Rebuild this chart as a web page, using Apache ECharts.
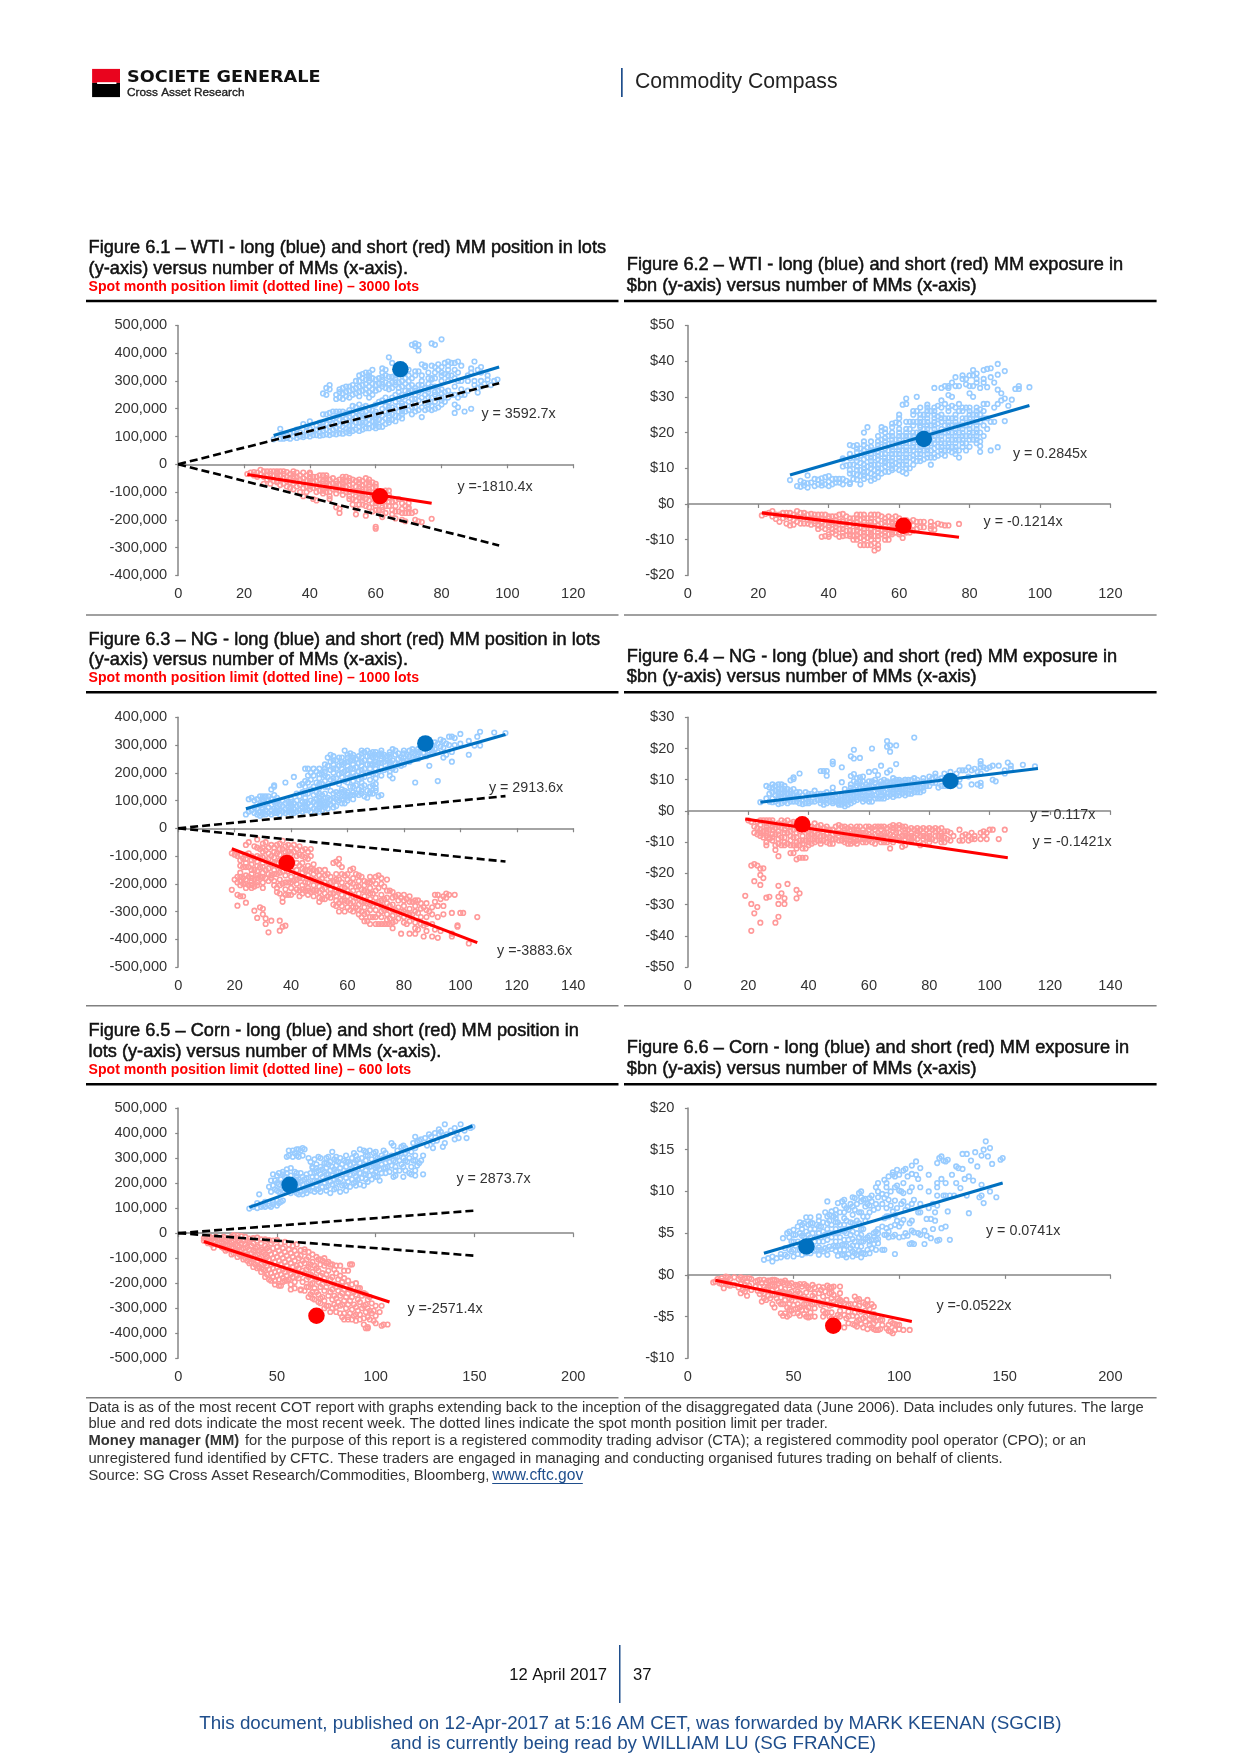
<!DOCTYPE html>
<html><head><meta charset="utf-8"><title>Commodity Compass</title>
<style>html,body{margin:0;padding:0;background:#fff}#c{width:1240px;height:1754px}</style>
<script src="https://cdn.jsdelivr.net/npm/echarts@6/dist/echarts.min.js"></script></head>
<body><div id="c"></div>
<script>
// Rows are [x, y, y, ...]. Lots rows are in thousands of lots, exposure rows in $bn.
const wtiLotsLong=[[29,90],[31,128,92],[32,92,100,110],[33,95,105],[34,92,112],[35,100,118],[36,95,108,125],[37,100,115],[38,98,105,145],[39,103,120,135],[40,100,112,128,155],[41,105,118],[42,105,125,140],[43,103,115,130,150],[44,105,120,135,150,180,255],[45,108,125,145,180,250,275],[46,105,118,135,160,185,285,270],[47,110,125,145,165,190],[48,108,130,150,170,190,250,235],[49,112,125,140,160,180,190,270,260,240],[50,110,135,155,175,190,275,255,235],[51,115,128,145,165,185,280,260,245],[52,112,125,140,170,195,280,265,240],[53,120,140,160,180,210,270,285,250],[54,125,150,170,190,205,300,275,255],[55,120,135,150,175,195,215,320,300,280,260,245],[56,125,140,165,185,205,325,310,285,265],[57,130,150,170,190,210,330,305,290,270,255],[58,130,145,160,180,200,300,320,280,260,240],[59,135,155,175,195,340,310,290,270,250],[60,130,150,170,190,215,305,285,265],[61,135,160,180,225,310,290,270],[62,135,155,175,200,230,315,280,345],[63,145,165,190,210,240,320,295,275,340],[64,150,175,195,225,315,290,270,385],[65,160,180,205,240,315,295,275,365],[66,155,175,200,225,250,310,285],[67,170,190,210,235,260,295,275],[68,165,180,200,220,250,300,280],[69,190,215,245,265,290,310],[70,195,225,255,280,300],[71,180,205,235,265,285,310,430],[72,190,220,250,275,335,320,435,425],[73,195,230,260,285,335,410,430],[74,170,205,240,270,285,360],[75,195,220,250,275,355,350],[76,200,225,260,330],[77,195,210,240,280,305,310,355,435],[78,200,225,250,310,430],[79,205,240,265,340,360],[80,215,230,255,350,330,450],[81,225,260,325,365],[82,240,265,340,370],[83,250,320,365],[84,185,215,340,365],[85,205,240,300,330,370],[86,355],[87,190,250],[88,265],[89,200,330,345],[90,285,370,300],[91,258,275,340],[92,280,350],[93,290],[94,305],[95,285],[96,300],[97,305],
[52,120,155,185],[56,150,175],[60,140,160,180],[64,160,185,205],[68,190,210,240],[72,205,235,265],[76,215,240,270,290,310],[80,240,270,300,320],[84,250,280,310],[62,290,330,305],[58,310,330],[66,295,320],[70,320,340,260],[74,300,320],[78,330,350,280,260],[82,300,320,355],[86,250,270,300],[88,300,320],[92,300,330],[94,320]];
const wtiLotsShort=[[21,-35],[22,-30],[23,-28,-40],[24,-30,-45],[25,-20,-35],[26,-25,-45,-70],[27,-25,-40,-55],[28,-25,-35,-50,-70],[29,-25,-40,-60],[30,-25,-35,-50,-65],[31,-25,-40,-55,-75],[32,-25,-35,-50,-70],[33,-28,-45,-60,-80],[34,-35,-50,-65,-85],[35,-35,-50,-70,-90],[36,-30,-45,-60,-80],[37,-40,-55,-75,-100],[38,-30,-50,-65,-85,-115],[39,-40,-60,-80,-100],[40,-35,-50,-70,-90],[41,-45,-65,-85,-125],[42,-45,-60,-80,-100,-130],[43,-40,-55,-75,-95],[44,-40,-60,-85,-105],[45,-50,-70,-85],[46,-55,-75,-100],[47,-50,-70,-90],[48,-60,-80,-105,-155],[49,-55,-75,-95,-160,-175],[50,-45,-65,-85,-110],[51,-45,-60,-80,-100],[52,-50,-75,-90,-115,-125],[53,-55,-70,-95,-125,-145],[54,-60,-80,-100,-130,-160,-180],[55,-55,-70,-95,-120,-145],[56,-60,-75,-90,-110,-130],[57,-50,-70,-90,-125,-150,-185],[58,-55,-75,-100,-130,-155],[59,-65,-85,-110,-140,-170],[60,-70,-95,-130,-150,-225,-232],[61,-105,-125,-165],[62,-130,-155,-180],[63,-95,-125,-150,-175],[64,-95,-110,-135],[65,-135,-165,-180],[66,-130,-150,-195],[67,-125,-170],[68,-140,-200],[69,-150,-175,-205],[70,-140,-155,-175],[71,-175],[72,-170,-200],[73,-205],[74,-208],[77,-196],
[30,-30,-45,-60],[35,-25,-45,-60],[40,-30,-45,-60,-80],[45,-40,-60,-80,-100],[50,-55,-75,-95],[55,-65,-85,-105],[60,-80,-110,-140,-165],[64,-120,-150],[68,-160,-175],[66,-170],[70,-160],[62,-165,-190],[54,-115],[44,-70,-95],[48,-70,-90],[52,-60,-100],[58,-65,-90,-110],[56,-100,-120,-145],[46,-115,-125]];
const wtiUsdLong=[[29,6.7],[31,5],[32,4.8,6.5],[33,5.2,6],[34,4.6,5.8,8],[35,6],[36,5,7],[37,5.5,6.8],[38,5.2,6,7.2],[39,5.5,7.5],[40,5,6.2,7.8],[41,5.5,7],[42,6,7],[43,6,7],[44,5.5,7,12.5],[45,6.5,10.8],[46,5.6,6,11,12.8],[47,7,8.5,11,13,16.2],[48,6.8,8.2,9.5,12,14.5,16.5],[49,5.5,7.8,9.5,11.5,13.5,15.5],[50,7,9,11,12.5,15,20],[51,7.5,9,10.5,13,15.8,21.5],[52,6.5,8.5,10,12,14,16,17.5],[53,7,8,9.5,11,13,15],[54,7.5,9,11,12.5,14.5,16.5],[55,8.5,10,12,14,16,18,21.5,20.5],[56,9,10.5,12,14,15.5,17.5,20],[57,9,11,13,15,16.8,19],[58,9.5,11,13,15,17,19,22.5],[59,10,11.5,14,16,18,22.8],[60,9.5,12,14,16,18,20,24,25],[61,9,11,13,15,17,19,27.8],[62,8.5,10,12,14,16,18,20,29.5,28],[63,10,13,15,17,19,21,23],[64,11,12.5,15,17,19,22],[65,12,14,16,18,20,23,26,30],[66,12,14,16,18,20,21.5,23,27],[67,12.5,15,17,19,21,23,25],[68,13,15,17,19,21,24,26],[69,11,13,15,17,19,22,26],[70,13,15.5,18,20,22,25,27],[71,13.5,16,18,20,22.5,24.5,27.5],[72,14,16,18,21,24,27,29,32.5],[73,13.5,15,17,20,22,24],[74,15,17,19,21,23,33,32.5,30.5],[75,14.5,16,18,20,22,24,27.5],[76,14,16,18,21,23,27],[77,13,15,18,20,22,26,28,33],[78,16,18,20,23,36,35],[79,15,17,19,22,24,27],[80,16,19,21,24,26,31,33,36],[81,18,20,23,25,30,36],[82,17,19,22,24,27,34,36.5],[83,14.6,16.2,17.5,20,23,25,26.5,32.5],[84,19,22,24,28,35,37.5],[85,21,24,32.7,37.8],[86,15,23,35.5,38],[87,23,34,27],[88,28,32,36.2,39.2,15.9],[89,31,29],[90,23.2,29.5,37.2],[91,27.5],[92,29.2],[93,32.2],[94,33,32.2],[97,32.7],
[44,10.5,12.8],[46,8.5,9.5,14,16.5],[48,10.5,13,15.5],[50,8,10,14,16.5,17.5],[52,11,13,15],[54,10,13.5,15.5,17.5,19],[56,11.5,13,16.5,18.5,21],[58,10,12,14,16,18,20,21.5],[60,11,13,15,17,19,21,22.5],[62,11,13,15,17,19,21,23],[64,13.5,16,18,20,23,25,26],[66,13,15,17,19,22,24,25],[68,14,16,18,20,22,23,25,27],[70,14,17,19,21,23,24,26],[72,15,17,19,20,23,25],[74,16,18,20,22,24,26,27],[76,15,17,19,20,22,24,25,33,35.5],[78,17,19,21,22,24,26,27],[80,18,20,22,23,25,27],[82,18,20,21,23,25,26,35],[70,32.5],[73,33,28],[75,30,34],[79,33.5,35],[84,26,34],[85,28],[81,33,37.5],[68,27.8]];
const wtiUsdShort=[[21,-3.2],[22,-2.8],[23,-2.5],[24,-2,-3.5],[25,-3,-4.2],[26,-3,-5],[27,-2.5,-4],[28,-2.5,-3.5,-5.5],[29,-2.5,-4,-6],[30,-3,-4.5,-5.8],[31,-2,-3.5,-5],[32,-2.5,-4,-5.5],[33,-2.5,-3.5,-5.5],[34,-3,-4.5,-5.5],[35,-2.8,-4.5,-5.8],[36,-3,-4,-5.5],[37,-3,-4.5,-6,-7],[38,-3,-5,-6.5,-9.2],[39,-3,-4.5,-7,-9],[40,-3.5,-5,-6.5,-8.5,-9.2],[41,-3.5,-5,-7,-8],[42,-3.5,-5.5,-7.5,-8.5],[43,-3,-5,-7,-9.2],[44,-2.8,-4.5,-6,-8,-9],[45,-3.5,-5.5,-7.5,-8.8],[46,-4,-6,-7.5,-9],[47,-4,-5.5,-7.5,-9,-10],[48,-3,-5,-6.5,-8.5,-10],[49,-3,-4.5,-6.5,-8,-9.5,-11.5],[50,-3,-5,-7,-9,-11.5],[51,-4,-6,-8,-9.5,-11.5],[52,-3,-5,-7,-8.5,-10,-11.5],[53,-3,-5,-6.5,-9,-11,-13],[54,-3,-4.5,-6,-8,-10,-11.5,-12.5],[55,-3.5,-5.5,-7.5,-8.5],[56,-4,-6,-8,-10],[57,-3.5,-5,-7,-8.5,-10],[58,-4,-5.5,-7.5,-8.5],[59,-3.5,-5.5,-7,-8],[60,-4,-6,-8.5],[61,-5,-7.5,-9.5],[62,-4.5,-6.5,-8],[63,-5,-7,-8],[64,-4.5,-6,-7.5],[65,-5,-7],[66,-5,-6.5],[67,-5,-6.5],[69,-5,-6.2,-7],[70,-6,-7.2],[71,-5.5],[72,-5.8],[73,-6],[74,-6],[77,-5.6],
[42,-4.5,-6.5],[44,-5,-7],[46,-5,-8.5],[48,-4,-6,-7.5,-9],[50,-4,-6,-8,-10],[52,-4,-6,-8,-9],[54,-7,-9],[56,-5,-7,-9],[58,-5,-7,-8],[60,-5,-7,-8],[40,-4,-6],[36,-4.8],[38,-4,-5.5],[62,-5.5,-7.5]];
const ngLotsLong=[[24,50],[25,60,105],[26,65,110],[27,55,75,100],[28,50,70,105],[29,45,60,85,115],[30,50,70,95,115],[31,50,65,90,115],[32,55,75,100,115],[33,50,65,85,105,140],[34,55,70,95,120,150,155],[35,55,75,100],[36,50,65,85],[37,60,80,100],[38,55,70,90,165],[39,60,75,95],[40,65,85,105],[41,55,70,90,185],[42,60,80,100,125],[43,65,85,115,155],[44,60,75,95,130,160],[45,65,85,110,150,170,215],[46,65,90,125,165,190,215],[47,60,80,100,140,175,200],[48,70,95,120,150,190,215],[49,65,85,105,130,165,205],[50,70,90,110,145,180,215],[51,65,80,100,120,160,195],[52,75,95,125,170,205,230],[53,70,90,110,150,185,225,255],[54,85,105,135,175,210,240,265],[55,75,125,165,200,230,260],[56,80,105,130,180,215,245],[57,100,125,160,195,225,255],[58,115,140,185,215,240],[59,90,115,135,170,205,235,280],[60,110,130,165,195,225,265],[61,120,150,185,215,245,270],[62,105,130,170,200,230,255],[63,125,155,190,220,250],[64,120,140,175,205,235,260],[65,135,165,195,225,255,280],[66,115,155,185,215,245,275],[67,110,135,200,230,260,280],[68,150,175,215,245,270],[69,125,155,195,230,255,275],[70,145,180,215,240,275],[71,115,205,235,265],[72,120,190,220,250,270],[73,210,240,265],[74,215,245,260],[75,205,230,255,275],[76,180,215,245,285],[77,210,235,265,280],[78,230,250,270],[79,225,255],[80,240,270],[81,245,265],[82,240,260,280],[83,255,275,285],[84,165,250,270],[85,265,285],[86,260,285],[87,270,300],[88,260,290],[89,225,280,300],[90,270,290],[91,285,310],[92,170,275,305],[93,295,320],[94,255,290,315],[95,265,305],[96,300,330],[97,240,275,330],[98,300,325],[100,340,305],[103,265,315],[105,298],[106,330],[107,298,348],[112,345],[116,343],
[30,60,85,105],[35,65,90,110],[40,55,75,95],[45,75,95,125],[50,60,80,100,125,160,195],[55,95,110,180,215,245],[60,100,120,180,210,240,255],[65,125,150,180,210,240,270],[70,135,160,195,230,255,265],[75,190,220,240,265],[80,230,255,280],[85,250,275],[90,280,300],[72,235,260,280],[68,125,130,200,230,260],[62,120,150,185,215,245,265],[58,90,105,130,200,230,255],[52,85,110,150,190,215]];
const ngLotsShort=[[19,-90,-222],[20,-95,-185],[21,-100,-175,-195,-240,-279],[22,-95,-135,-190,-205,-245],[23,-110,-140,-180,-200,-245],[24,-60,-95,-125,-185,-215,-268],[25,-50,-90,-140,-175,-205],[26,-100,-130,-165,-190,-215],[27,-65,-110,-150,-185,-210,-297],[28,-40,-70,-120,-155,-180,-205,-323],[29,-75,-105,-140,-175,-285],[30,-55,-85,-125,-160,-195,-215,-290,-310],[31,-50,-80,-115,-150,-180,-345,-325],[32,-70,-110,-145,-375],[33,-60,-100,-130,-170,-180,-333],[34,-70,-105,-150,-190,-205],[35,-60,-90,-125,-165,-215,-230],[36,-55,-95,-140,-185,-235,-333,-369],[37,-45,-75,-110,-155,-200,-250,-265,-355],[38,-65,-100,-140,-170,-220,-351],[39,-60,-85,-155,-195,-240],[40,-70,-110,-175,-215],[41,-60,-85,-190,-230],[42,-75,-100,-170,-200],[43,-65,-95,-135,-180,-225,-245],[44,-80,-125,-160,-205,-235],[45,-75,-105,-150,-195,-225],[46,-85,-135,-170,-215,-240],[47,-75,-100,-145,-185,-230],[48,-130,-165,-205,-245],[49,-155,-190,-225],[50,-170,-210,-250,-265],[51,-180,-220,-255],[52,-150,-195,-235,-255],[53,-165,-205,-245],[54,-175,-220,-250],[55,-125,-190,-235,-275],[56,-120,-165,-205,-260,-280],[57,-110,-130,-185,-225,-270,-300],[58,-140,-195,-240,-280],[59,-170,-215,-260,-300],[60,-165,-205,-245,-285],[61,-150,-195,-235,-270,-295],[62,-145,-180,-225,-265,-300],[63,-165,-210,-250,-285],[64,-190,-235,-275,-310],[65,-175,-220,-265,-300,-320],[66,-205,-245,-285,-335],[67,-195,-230,-270,-305,-335],[68,-175,-215,-255,-295],[69,-190,-235,-280,-320],[70,-200,-250,-295,-345],[71,-170,-215,-265,-310,-345],[72,-180,-240,-280,-320],[73,-210,-255,-295,-345],[74,-185,-225,-270,-310,-345],[75,-225,-280,-325,-345],[76,-230,-275,-315,-360],[77,-245,-295,-335],[78,-240,-285,-325],[79,-250,-300,-380],[80,-240,-280,-320],[81,-255,-305,-345],[82,-245,-290,-335,-380],[83,-265,-310],[84,-280,-340],[85,-260,-305,-365],[86,-270,-320],[87,-285,-350,-390],[88,-295,-345],[89,-300],[90,-285,-390],[91,-240,-265,-365],[92,-240,-280,-320,-395],[93,-255,-370],[94,-245,-280,-310],[95,-235,-250],[96,-240],[97,-305,-380,-390],[98,-240],[99,-350,-355],[100,-305],[101,-305],[103,-415],[106,-320],
[22,-115,-160,-175],[24,-110,-140,-170,-200],[26,-115,-150,-180,-205],[28,-100,-135,-170,-195],[30,-70,-105,-140,-175],[32,-90,-125,-165,-190],[34,-85,-125,-165],[36,-75,-115,-160,-205],[38,-85,-120,-195,-240],[40,-90,-130,-150,-195,-240],[42,-125,-150,-185,-220],[44,-100,-145,-180,-220],[46,-110,-150,-195,-225],[48,-150,-185,-225],[50,-150,-190,-230],[52,-170,-215],[54,-195,-235],[56,-185,-225,-245],[58,-165,-215,-260],[60,-185,-225,-265],[62,-200,-245,-285],[64,-170,-210,-255,-295],[66,-190,-225,-265,-310],[68,-195,-235,-275,-320,-345],[70,-175,-225,-270,-320],[72,-200,-260,-300,-345],[74,-250,-290,-330],[76,-250,-295,-340],[78,-260,-305],[80,-260,-300,-340],[82,-265,-310],[84,-260,-300,-360,-380],[86,-290,-345],[88,-270,-320,-370],[90,-310,-345]];
const ngUsdLong=[[24,2.8],[26,8,4],[27,3,5.5,7.5],[28,2.8,4,6,7.5,8.5],[29,3,5,6.5,8],[30,2.2,4,6,8.5],[31,2.5,4.5,5.5,7,8.5],[32,3,4.5,6,8],[33,2.5,4,5.5,7],[34,3,4.5,6.5,9.8],[35,3,5,7,10.2,10.8],[36,3,5],[37,4,6,2.5,12],[38,2.2,5],[39,2.5,4,6],[40,3,5.5],[41,3,5.5],[42,3,5,6.5],[43,3.5,5.5],[44,2.5,4.5,5.5,12.8],[45,2,4,5.5,12.8],[46,2.5,4,5,11.3,12.8],[47,3,4.5],[48,2.5,4,6,7.5,15,15.8],[49,3,4.5],[50,2,3.5],[51,2,3.5,5,9.2,14],[52,1.5,3.5,5.5],[53,2,4,6],[54,2.5,4.5,6.5,8.5,11.2,17.5],[55,3,5,7,9.5,11.8,16.8,19.6],[56,3.5,5.5,8,10.5],[57,4,6,7.5,9.5,10.8,17],[58,3,5,7],[59,3.5,5,7,8.5],[60,3,5,7,12.5],[61,3,5,8,9.5,20],[62,4,6.5,9,12.8],[63,4,6,8,11.5],[64,5,7.5,9.5,14.5],[65,4,6,8.5,10],[66,4.5,7,9.5,12.3,22.4,20.6],[67,5,7,9,13,21,19],[68,4.5,6.5,8.5,10.5],[69,5,7,10,15,21],[70,5,7,9,10],[71,5.5,7.5,9.5],[72,5,7,9,10],[73,5.5,8,10],[74,5.5,7.5],[75,6,8,9,10.5,23.5],[76,6,8],[77,6,7.5],[78,6.5,8.5,10.5],[79,8],[80,8,9.5,11],[81,9,10.5],[82,9,11,12],[83,7.5,10],[84,8,10.5],[85,8,10,12],[86,8,9,11],[87,8,12.5],[88,9,11],[89,12],[90,13,8,10],[91,13],[92,13],[93,11,14],[94,13,8.5],[95,13.5],[96,12.5,8.5],[97,9,8,12,14,15,16],[98,14],[99,13.5],[100,14],[101,10,14.5],[102,9.5],[103,14.5],[105,12,13],[106,15.5],[107,13.5,14.5],[111,14.8],[115,14.3],
[30,5,7],[32,5,7,3.5],[34,4,5.5],[36,4,6],[38,3.5],[40,4.5,2.5],[44,3.5],[46,3.5,6],[48,3,5],[50,3,5,2.5],[52,2.5,4.5,7],[54,3.5,5.5,7.5],[56,4.5,6.5,9],[58,4,6,8,9.5,11],[60,4,6,8,9.5],[62,5,7.5,10],[64,4,6,8.5],[66,5.5,8,9],[68,5.5,7.5,9.5],[70,6,8,9.5],[72,6,8,10],[74,6.5,8.5,10],[76,7,9,10],[78,7.5,9.5]];
const ngUsdShort=[[19,-27.2],[20,-3],[21,-3.5,-29.8,-38.4,-17.5],[22,-5,-7,-22.5,-32.8,-17],[23,-3.5,-5.5,-7.5,-30.8,-17.5],[24,-3,-6,-8,-23.7,-35.8,-18.5,-20.5],[25,-3,-6.5,-8.5,-18.4,-21.5],[26,-3,-5,-7,-10,-11,-27.8],[27,-3,-6,-8.5,-9,-27.5],[28,-3,-5,-7.5,-9.5],[29,-5.5,-7.5,-12.5,-11,-35.8],[30,-4,-6.5,-9,-14.5,-24,-27.5,-29.8,-33.9],[31,-3,-5.5,-8.5,-11,-26.4],[32,-3.5,-7,-10,-11,-28,-29.8],[33,-3,-5,-7,-10.5,-23.4],[34,-4,-6.5,-9.5,-13.5],[35,-3.5,-6,-8.5,-11,-13.5],[36,-4.5,-7,-10,-12,-15.5,-25.3,-28],[37,-4,-6.5,-9.5,-11,-15,-26.4],[38,-4,-9.5,-12,-15],[39,-6,-9.5,-12,-15],[40,-5,-7,-9,-11],[41,-5,-7.5,-10.5],[42,-4,-7,-9,-10],[43,-5,-7.5,-9.5],[44,-4.5,-8,-10.5],[45,-5.5,-8,-9.5],[46,-5,-7.5,-10],[47,-6,-8.5,-10.5],[48,-6,-9,-10.5],[49,-5,-7,-9],[50,-4.5,-7,-9.5],[51,-5,-7.5,-9.5],[52,-5,-7,-9],[53,-5.5,-8,-10.5],[54,-5,-7.5,-9.5,-10.5],[55,-6,-9,-10],[56,-5,-7,-9.5],[57,-5,-7.5,-9],[58,-6,-8,-10],[59,-5,-7,-10],[60,-5,-7.5,-9.5],[61,-5.5,-8,-10],[62,-6,-9,-10.5],[63,-5,-7,-9],[64,-6,-8.5,-10],[65,-5,-7,-10],[66,-5.5,-8.5,-10],[67,-5,-7.5,-9.5,-12],[68,-4.5,-6.5,-9],[69,-5,-7,-9],[70,-4.5,-7,-9.5],[71,-5,-8,-11.5],[72,-5,-7,-9,-11],[73,-6,-8.5],[74,-5.5,-8,-10],[75,-6,-8.5,-10],[76,-6.5,-9],[77,-6,-8,-11],[78,-7,-9,-10.5],[79,-6,-8.5],[80,-5.5,-8,-10],[81,-6,-9],[82,-6.5,-9.5],[83,-6,-8],[84,-7,-9,-10],[85,-6.5,-8.5,-10],[86,-6.5,-9],[87,-7,-9.5],[88,-8],[90,-6,-9.5],[91,-8,-9.5],[92,-7.5],[93,-8,-9.5],[94,-7,-9],[95,-8,-9],[97,-7,-9],[98,-6.5,-8],[99,-7,-9],[100,-6],[101,-6],[103,-9],[105,-6],
[24,-4.5,-7],[26,-4,-6,-8],[28,-4,-6,-8.5],[30,-5,-7.5,-10.5],[32,-4.5,-6,-8.5],[34,-5,-8,-11],[36,-3.5,-5.5,-8.5,-11],[38,-5.5,-8,-10.5],[40,-6,-8,-10],[42,-5.5,-8],[44,-6,-9.5],[46,-6,-8.5],[48,-7.5],[50,-6,-8],[52,-6,-8,-10],[54,-6,-8.5],[56,-6,-8,-10.5],[58,-7,-9],[60,-6,-8.5],[62,-5,-7.5],[64,-5,-7.5,-9],[66,-7,-9],[68,-5.5,-8,-10],[70,-5.5,-8.5],[72,-6,-8],[74,-7,-9],[76,-5.5,-7.5],[78,-5.5,-8],[80,-7,-9],[82,-5.5,-8],[84,-5.5,-8]];
const cornLotsLong=[[36,98],[38,105],[40,100,120],[41,155],[42,105],[43,110],[44,105,125],[46,110,185],[47,105,165,210],[48,115,125,190,235],[49,175,210],[50,110,130,170,200,230],[51,120,165,195,240],[52,125,175,215],[53,130,170,200,235,245],[54,180,225],[55,175,240,255,305],[56,170,200,330,310],[57,160,230,260],[58,330,305],[59,170,215,245,320],[60,175,195,225,310,335],[61,155,185,215,335,305],[62,165,205,240,330],[63,155,195,225,340,310],[64,170,215,335],[65,160,185,235],[66,175,205,300],[67,170,195,240,285],[68,185,225,260,265],[69,165,210,240,295],[70,190,225,275],[71,175,205,250,305],[72,165,200,235,265,300],[73,185,225,255],[74,200,245,280],[75,170,215,260],[76,190,235,275,305],[77,160,205,250,285],[78,195,230,265,325],[79,175,215,255,295],[80,180,225,270,305],[81,205,245,285],[82,165,215,260,300],[83,190,235,275],[84,195,250,290],[85,170,220,265,310],[86,205,245,285],[87,185,235,275],[88,215,255,300],[89,200,240,280,320],[90,190,225,265,310],[91,215,255,295],[92,195,240,280,335],[93,220,260,300],[94,190,235,275,330],[95,215,250,290,325],[96,205,270,310],[97,230,265,330],[98,215,250,295],[99,235,280,320],[100,245,270,305,325],[101,225,265,300],[102,210,255,290],[103,240,275,310],[104,260,300,330],[105,240,280,320],[106,265,300],[107,245,285],[108,270,310,360],[109,225,290,350],[110,230,265],[111,305,330],[112,250,290],[113,275,320,345],[114,225,265,300,350],[115,250,340],[116,285,330],[117,240,300],[118,235,265,325],[119,290,360],[120,230,310,385],[121,270,365],[122,280,370],[123,290,375],[124,235,310],[125,380],[126,350],[127,395],[128,385],[129,365,340],[130,400],[131,370],[132,415,395],[133,405],[134,345,390],[135,360,435],[136,395],[138,410],[140,375,420],[141,400],[142,380],[143,435],[145,410],[146,380],[148,420],[149,425],
[55,190,215],[60,160,205,240],[65,175,200,220],[70,175,205,245,260],[75,185,235,280,300],[80,200,245,290],[85,190,240,285],[90,205,245,290],[95,235,270,310],[100,225,260,290],[105,260,300],[110,250,285,310],[115,290,320],[120,250,290,340]];
const cornLotsShort=[[13,-20,-30],[14,-25],[15,-20,-40],[16,-15,-35],[17,-20,-45],[18,-30,-58],[19,-15,-35],[20,-25,-45],[21,-20,-40],[22,-20,-35,-55],[23,-15,-40,-60],[24,-30,-50,-70],[25,-20,-45,-65],[26,-25,-50],[27,-15,-35,-60,-85],[28,-8,-30,-55,-80],[29,-25,-45,-70],[30,-20,-50,-75,-95],[31,-30,-55,-85],[32,-40,-65,-90],[33,-30,-60,-85,-105],[34,-45,-75,-100],[35,-30,-55,-85,-110],[36,-35,-65,-95,-120],[37,-50,-80,-115],[38,-40,-70,-105,-135],[39,-60,-90,-125],[40,-30,-55,-85,-115,-140],[41,-70,-100,-135],[42,-40,-65,-95,-125,-155],[43,-75,-110,-145],[44,-50,-85,-120,-175],[45,-60,-95,-130,-165],[46,-70,-105,-145,-185],[47,-40,-85,-125,-160],[48,-60,-100,-140,-175],[49,-80,-115,-155,-190],[50,-55,-95,-135,-170],[51,-70,-110,-150,-185],[52,-85,-125,-165,-210],[53,-60,-100,-145,-180],[54,-75,-115,-155,-190],[55,-90,-130,-170],[56,-65,-105,-145,-185],[57,-80,-120,-165,-205],[58,-95,-135,-175],[59,-70,-110,-150,-195],[60,-85,-130,-170],[61,-100,-140,-180],[62,-90,-125,-165,-225],[63,-110,-150,-195],[64,-75,-120,-160,-230],[65,-105,-145,-185],[66,-95,-135,-175,-215,-255],[67,-125,-165,-205,-245],[68,-115,-155,-200,-260],[69,-130,-175,-220,-265],[70,-140,-185,-235],[71,-105,-150,-195,-245,-275],[72,-125,-170,-215,-260],[73,-110,-160,-205,-255],[74,-130,-180,-230,-270],[75,-120,-165,-215,-290],[76,-150,-200,-250],[77,-125,-185,-235,-315],[78,-175,-225,-265],[79,-145,-205,-250,-285],[80,-160,-215,-260,-315],[81,-185,-230,-275],[82,-170,-210,-250,-290],[83,-195,-240,-285,-335],[84,-180,-225,-270,-345],[85,-210,-255,-300],[86,-190,-240,-285,-335],[87,-225,-270,-320],[88,-125,-205,-255,-305,-345],[89,-235,-285,-330],[90,-245,-295,-325],[91,-220,-265,-310],[92,-275,-325],[93,-250,-300],[94,-290,-340],[95,-245,-285,-315,-380],[96,-265,-300,-335,-375],[97,-255,-310,-345],[98,-280,-320],[99,-310,-350],[100,-290,-330,-360],[102,-315],[103,-290,-370],[104,-365],[106,-365],
[30,-10],[32,-12],[34,-15],[36,-22],[38,-20],[40,-18],[42,-25],[44,-25],[46,-28],[48,-30],[50,-28],[52,-40],[54,-35],[56,-45],[58,-50],[60,-45],[62,-68],[64,-65],[66,-75],[68,-85],[70,-95],[72,-105],[74,-100],[76,-115],[78,-125],[80,-130],[82,-130],[84,-150],[86,-150],[87,-125],[90,-200],[92,-220],[94,-240],[51,-210],[47,-190],[49,-205],[55,-190],[59,-220],[62,-228],[57,-225],[44,-150],[41,-135],[53,-195],[65,-215],[68,-235],[72,-280],[74,-300],[76,-290],[78,-300],[80,-295],[82,-320],[84,-320],[86,-345],[90,-350],[92,-345],[94,-365],[96,-380]];
const cornUsdLong=[[36,1.8],[38,2],[40,1.6,2.2],[42,2],[44,2.1,2.5],[45,4.4],[46,2.4,3.2],[47,2.2,5],[48,3,4.5,5.2],[49,2.8,4],[50,2.2,3,5.4],[51,3.5,4.8],[52,2.5,4,5.8],[53,3,5,6.3],[54,2.4,3.8,5.5,6],[55,3.2,4.5,6.2],[56,2.6,4,5.2,6.9],[57,3,4.8,6],[58,2.6,4.5,5.5,6.9],[59,3.5,5,6.2],[60,2.9,4,5.5],[61,3,4.5,6],[62,3.3,5,6.5,7],[63,3,4.5,5.8],[64,2.8,4,5.2,6.3],[65,3.2,4.8,7.5],[66,3,4.2,5.5,7,8.8],[67,3.4,5,6.5,7.2],[68,3.1,4.5,6,7.6],[69,3.5,5,7],[70,2.9,4,5.5,6.8,7.8],[71,2.3,3.5,5,6.3,8.6],[72,3,4.5,6,7.5],[73,2.4,3.6,5.3,8.8],[74,3,4.2,6,7.5,9],[75,2.1,3.5,5,6.5,8],[76,2.5,4.2,5.5,7.8],[77,3.2,4.8,6.3,8.5],[78,2.2,3.5,5.2,7.2,9.3],[79,2.6,4,6,7.8,9.2],[80,2.4,3.5,5,6.5,8.5],[81,2.9,4.5,6.2,7.5,9.8],[82,2.1,3.4,4.8,8.8,10],[83,2.6,4,5.5,7,9],[84,2.5,4.3,6.5,8.2,9.1],[85,3,4.5,7,8.5],[86,2.6,3.6,4.7,7.5],[87,3.2,4.2,8.8,9.5],[88,3.7,4.6,5,7.8],[89,3,4.2,5.2,8.5,10.5],[90,3.8,5.5,8,11],[92,3,5.8,8.5,9.7],[93,3,4.8,6.8,9.2,11.4],[94,5.6,8,9.6],[95,4.5,5.2,7,9,11.8],[96,5.8,8.3,10],[97,4.6,7.6,12,12.3],[98,2.5,6,8.9,11.8],[99,6.5,8,10.7,12.6],[100,4.5,5.8,10.1,12],[101,6.2,8.5,10],[102,4.6,6.6,9.8],[103,5,7.8,12.7],[104,4.7,8.2,11.8],[105,3.7,6.2,10],[106,3.8,5.3,8.5,12.1,13.1],[107,3.7,5.1,9],[108,13.6,12],[109,5,7.5,11.5],[110,4.8,7.5],[112,3.7,5.3],[113,4.7,6.7],[115,6.7,4.4],[116,5.5,8.5],[117,6.5,7.5],[118,4.1,8.3,11,13.4],[119,4.2,14],[120,5.6,11.5,14.2],[121,13.7,9.5],[122,5.8,11],[123,13.8,7.6],[124,4.2,9.5],[125,12],[126,9.5],[127,11,13],[128,12.8],[129,10.4],[130,14.5,12.7],[131,11.5],[132,14.5,9.5],[133,7.4,11.8],[134,13.7],[135,11.3],[136,14.7],[137,13],[138,9.3],[139,9.5,14.3,10.8],[140,8.6,15],[141,16],[142,14.2],[143,15.2,10],[144,13.3],[146,9.3],[148,13.8],[149,14],
[50,4,4.8],[54,3,4.7],[58,3.5,6.2],[62,2.4,4,5.8],[66,2.4,6.2],[70,3.4,5,6.3,7.2],[74,2.4,3.6,5.2,6.8,8.3],[78,2.8,4.3,6.2,8.2],[82,2.6,4,5.5,7.5,9.3],[86,4,8.3,9.2],[90,4.3,5,9.3,10],[94,4.8,7,10.5,11],[98,4.8,7.2,10.5],[102,8.8,11,12.5],[106,6.5,10.5],[110,8.5,10.5,12.8],[114,8,10,12],[118,9.5,10.5],[122,9.5,13.6]];
const cornUsdShort=[[12,-0.9],[13,-0.8],[14,-0.5],[15,-0.7,-1],[16,-0.4,-1.1],[17,-0.7,-1.6],[18,-0.2,-0.9],[19,-0.3,-1.2],[20,-0.5,-1.3],[22,-0.3,-1.2],[24,-0.5,-1.5],[25,-0.3,-1.1,-2.2],[26,-0.5,-1.8],[27,-0.4,-1.2,-2],[28,-0.8,-1.5,-2.5],[29,-0.4,-1.3],[30,-0.5,-1.8],[32,-0.8,-1.4],[33,-0.7,-1.9],[34,-0.6,-1.4,-2.3],[35,-1,-2,-3.2],[36,-0.6,-1.4,-2.8],[37,-0.9,-1.7,-3],[38,-0.7,-1.5,-2.5],[39,-0.7,-1.3,-2.8],[40,-0.6,-1.8,-3.5],[41,-0.6,-1.4,-2.4,-3.9],[42,-0.7,-1.7,-2.8],[43,-1,-2.2,-3.2],[44,-0.8,-1.5,-2.7,-4.6],[45,-0.9,-2,-3.5,-4.9],[46,-0.7,-1.7,-3,-4.6],[47,-1,-2.4,-3.9,-5],[48,-1.2,-2.2,-3.5,-4.8],[49,-1,-2,-3,-4.3],[50,-1.4,-2.6,-3.6,-4.6],[51,-1.2,-2.3,-4.1],[52,-1.3,-2.7,-3.5,-4.6],[53,-1.1,-2.2,-3.9,-4.9],[54,-1.4,-2.8,-4.2],[55,-1.1,-2.6,-3.5,-4.7],[56,-1.3,-2.9,-4.2,-5],[57,-1.5,-3,-3.9,-5.1],[58,-1.7,-3.2,-4.5,-5],[59,-1.2,-2.5,-3.5],[60,-1.5,-2.8,-4],[62,-1.4,-2.2,-3.3],[63,-1.8,-3.6],[64,-1.5,-2.6,-4.3],[65,-2,-3.5,-4.6],[66,-1.3,-3,-4.5],[67,-1.5,-2.2,-3.7,-5],[68,-1.5,-2.8,-4.5],[69,-1.4,-2.4,-3.2],[70,-3.5,-5.2],[71,-2.8,-4.8],[72,-1.4,-3,-4.3],[73,-3.2],[74,-3.4,-4.8,-6.3],[75,-3,-5.2],[76,-4.4,-5.8],[77,-3.5],[78,-4.9,-5.9],[79,-2.6,-3.5,-4.5,-6],[80,-3,-5,-6.2],[81,-2.9,-3.7,-5.4],[82,-4.4,-5.9],[83,-3.3,-5.2,-6.3],[84,-4.3,-5.6],[85,-3,-3.7,-6.5],[86,-4.1,-5.3,-6],[87,-3.5,-5,-6.3],[88,-4.7,-5.8],[89,-5.5,-6.6],[90,-5.1,-6.6],[91,-5.4,-6.5],[95,-6,-6.7],[96,-5.6,-6.8],[97,-5.8,-7],[98,-6.6],[99,-6],[100,-6.5],[102,-6.6],[105,-6.6],
[36,-2.2],[40,-1.2,-2.4],[44,-2.2,-3.5],[48,-2.8,-4.2],[52,-2,-4],[56,-2.1,-3.5],[60,-2.2,-3.4,-5],[64,-3.4,-5],[68,-2.1,-3.6,-5.2],[72,-2.2,-3.6,-5],[76,-3.6,-5],[80,-4,-5.6],[84,-3.5,-5],[88,-3.8,-5.2,-6.5],[92,-5.4,-6],[94,-6.4],[100,-6],[98,-5.9]];

// Fitted lines, limits and latest-week dots
const trendLong=[[[29,104],[97.5,350]],[[29,8.1],[97,27.6]],[[24,70],[116,338]],[[24,2.8],[116,13.6]],[[36,103],[149,428]],[[36,2.6],[149,11]]];
const trendShort=[[[21,-37],[77,-140]],[[21,-2.5],[77,-9.3]],[[19,-74],[106,-412]],[[19,-2.6],[106,-15]],[[13,-33],[107,-275]],[[13,-0.65],[106,-5.6]]];
const limitLines=[[[0,0],[97.5,292]],null,[[0,0],[116,116]],null,[[0,0],[150,90]],null];
const limitLinesNeg=[[[0,0],[97.5,-292]],null,[[0,0],[116,-120]],null,[[0,0],[150,-90]],null];
const latestLong=[[67.5,342],[67,18.2],[87.6,306],[87,9.6],[56.4,193],[56.1,3.4]];
const latestShort=[[61.3,-115],[61.2,-6.1],[38.5,-125],[37.9,-4.3],[70,-330],[68.8,-6.1]];
const longClouds=[wtiLotsLong,wtiUsdLong,ngLotsLong,ngUsdLong,cornLotsLong,cornUsdLong];
const shortClouds=[wtiLotsShort,wtiUsdShort,ngLotsShort,ngUsdShort,cornLotsShort,cornUsdShort];

const xMax=[120,120,140,140,200,200];
const xStep=[20,20,20,20,50,50];
const yMin=[-400000,-20,-500000,-50,-500000,-10];
const yMax=[500000,50,400000,30,500000,20];
const yStep=[100000,10,100000,10,100000,5];

const eqLong=['y = 3592.7x','y = 0.2845x','y = 2913.6x','y = 0.117x','y = 2873.7x','y = 0.0741x'];
const eqShort=['y =-1810.4x','y = -0.1214x','y =-3883.6x','y = -0.1421x','y =-2571.4x','y =-0.0522x'];
const titleLines=[
 ['Figure 6.1 – WTI - long (blue) and short (red) MM position in lots','(y-axis) versus number of MMs (x-axis).'],
 ['Figure 6.2 – WTI - long (blue) and short (red) MM exposure in','$bn (y-axis) versus number of MMs (x-axis)'],
 ['Figure 6.3 – NG - long (blue) and short (red) MM position in lots','(y-axis) versus number of MMs (x-axis).'],
 ['Figure 6.4 – NG - long (blue) and short (red) MM exposure in','$bn (y-axis) versus number of MMs (x-axis)'],
 ['Figure 6.5 – Corn - long (blue) and short (red) MM position in','lots (y-axis) versus number of MMs (x-axis).'],
 ['Figure 6.6 – Corn - long (blue) and short (red) MM exposure in','$bn (y-axis) versus number of MMs (x-axis)']];
const limitNotes=['Spot month position limit (dotted line) – 3000 lots',null,'Spot month position limit (dotted line) – 1000 lots',null,'Spot month position limit (dotted line) – 600 lots',null];
const footLines=['Data is as of the most recent COT report with graphs extending back to the inception of the disaggregated data (June 2006). Data includes only futures. The large','blue and red dots indicate the most recent week. The dotted lines indicate the spot month position limit per trader.','for the purpose of this report is a registered commodity trading advisor (CTA); a registered commodity pool operator (CPO); or an','unregistered fund identified by CFTC. These traders are engaged in managing and conducting organised futures trading on behalf of clients.','Source: SG Cross Asset Research/Commodities, Bloomberg, '];

// Layout
const FONT='"Liberation Sans",Arial,sans-serif';
const grids=[[178.2,325.4,395,250],[687.9,325.4,422.5,250],[178.2,717.3,395,249.7],[687.9,717.3,422.5,249.7],[178.2,1108,395,250.3],[687.9,1108,422.5,250.3]];
const eqPosLong=[[481.4,414.3],[1012.9,453.6],[488.9,787.7],[1030,815],[456.4,1179.3],[986,1230.7]];
const eqPosShort=[[457.5,487.5],[983.6,522.5],[497.1,950.7],[1032.5,842.3],[407.5,1309],[936.4,1305.7]];
const titlePos=[[88.6,248,269,287.5],[626.8,265,286],[88.6,640,660,678.5],[626.8,656.5,676.5],[88.6,1030.5,1051.5,1070.5],[626.8,1047.5,1068.5]];
const AXIS='#868686',TXT='#333333',LONG='#99CCFF',SHORT='#FF9999',BLUE='#0070C0',RED='#FF0000',NAVY='#1F4E8C';

const isLots=i=>i%2===0;
const fmtY=i=>v=>isLots(i)?String(v).replace(/\B(?=(\d{3})+$)/g,','):(v<0?'-$'+(-v):'$'+v);
const scale=(i,p)=>[p[0],isLots(i)?p[1]*1000:p[1]];
const flat=(rows,i)=>{const o=[];rows.forEach(r=>r.slice(1).forEach(y=>o.push(scale(i,[r[0],y]))));return o;};

const grid=[],xAxis=[],yAxis=[],series=[];
grids.forEach((g,i)=>{
  grid.push({left:g[0],top:g[1],width:g[2],height:g[3],containLabel:false});
  const base={type:'value',min:0,max:xMax[i],interval:xStep[i],gridIndex:i,splitLine:{show:false}};
  const lbl={color:TXT,fontFamily:FONT,fontSize:14.6};
  xAxis.push(Object.assign({},base,{axisLine:{show:true,onZero:true,lineStyle:{color:AXIS,width:1.5}},axisTick:{show:true,inside:false,length:4,lineStyle:{color:AXIS,width:1.2}},axisLabel:{show:false}}));
  xAxis.push(Object.assign({},base,{position:'bottom',axisLine:{show:false,onZero:false},axisTick:{show:false},axisLabel:Object.assign({show:true,margin:11},lbl)}));
  yAxis.push({type:'value',gridIndex:i,min:yMin[i],max:yMax[i],interval:yStep[i],position:'left',splitLine:{show:false},
    axisLine:{show:true,onZero:false,lineStyle:{color:AXIS,width:1.5}},axisTick:{show:true,length:3,lineStyle:{color:AXIS,width:1.2}},
    axisLabel:Object.assign({margin:isLots(i)?11:13.5,formatter:fmtY(i)},lbl)});
  const ax={xAxisIndex:2*i,yAxisIndex:i};
  const ring=(c,d)=>Object.assign({type:'scatter',data:d,symbolSize:4.6,silent:true,large:false,itemStyle:{opacity:1,color:'rgba(255,255,255,0)',borderColor:c,borderWidth:1.6},z:2},ax);
  series.push(ring(LONG,flat(longClouds[i],i)));
  series.push(ring(SHORT,flat(shortClouds[i],i)));
  const line=(d,c,w,dash,z)=>Object.assign({type:'line',data:d.map(p=>scale(i,p)),showSymbol:false,symbol:'none',silent:true,lineStyle:{color:c,width:w,type:dash||'solid',cap:'butt',opacity:1},z:z},ax);
  if(limitLines[i]){series.push(line(limitLines[i],'#000',2.6,[8,4],3));series.push(line(limitLinesNeg[i],'#000',2.6,[8,4],3));}
  series.push(line(trendLong[i],BLUE,3.1,null,4));
  series.push(line(trendShort[i],RED,3.1,null,4));
  const dot=(p,c)=>Object.assign({type:'scatter',data:[scale(i,p)],symbolSize:16.5,silent:true,itemStyle:{opacity:1,color:c},z:5},ax);
  series.push(dot(latestLong[i],BLUE));
  series.push(dot(latestShort[i],RED));
});

// Page furniture
const g=[];
const txt=(t,x,y,font,fill,align,extra)=>g.push(Object.assign({type:'text',x:x,y:y,z:10,silent:true,style:Object.assign({text:t,font:font,fill:fill,textAlign:align||'left',textVerticalAlign:'middle'},extra&&extra.style||{})},extra&&extra.el||{}));
const box=(x,y,w,h,fill)=>g.push({type:'rect',z:9,silent:true,shape:{x:x,y:y,width:w,height:h},style:{fill:fill}});

box(92.1,68.9,27.9,14,'#E9041E');box(92.1,82.9,27.9,14.2,'#000');box(97.1,82.2,19.3,1.8,'#fff');
txt('SOCIETE GENERALE',127.1,78,'bold 15.8px "DejaVu Sans"','#111','left',{el:{scaleX:1.117}});
txt('Cross Asset Research',127.1,93,'11.8px '+FONT,'#222','left',{style:{stroke:'#222',lineWidth:0.35}});
box(621,68,1.7,29,NAVY);
txt('Commodity Compass',635,82.5,'21.2px '+FONT,'#222');

const TITLE='18.2px '+FONT, NOTE='bold 14.1px '+FONT, HEAVY={style:{stroke:'#111',lineWidth:0.5}};
titlePos.forEach((p,i)=>{
  txt(titleLines[i][0],p[0],p[1],TITLE,'#111','left',HEAVY);
  txt(titleLines[i][1],p[0],p[2],TITLE,'#111','left',HEAVY);
  if(limitNotes[i])txt(limitNotes[i],p[0],p[3],NOTE,RED);
});
[301,692.3,1084.3].forEach(y=>{box(86,y-1.2,532.5,2.4,'#000');box(624,y-1.2,532.6,2.4,'#000');});
[615,1005.7,1397.7].forEach(y=>{box(86,y-0.8,532.5,1.6,'#808080');box(624,y-0.8,532.6,1.6,'#808080');});
eqLong.forEach((t,i)=>{txt(t,eqPosLong[i][0],eqPosLong[i][1],'14.3px '+FONT,TXT);txt(eqShort[i],eqPosShort[i][0],eqPosShort[i][1],'14.3px '+FONT,TXT);});

const FOOT='14.75px '+FONT;
txt(footLines[0],88.4,1407.5,FOOT,TXT);
txt(footLines[1],88.4,1424,FOOT,TXT);
txt('Money manager (MM)',88.4,1441,'bold 14.75px '+FONT,TXT);
txt(footLines[2],245,1441,FOOT,TXT);
txt(footLines[3],88.4,1458.8,FOOT,TXT);
txt(footLines[4],88.4,1476,FOOT,TXT);
txt('www.cftc.gov',492.2,1476,'15.6px '+FONT,NAVY);
box(492.2,1483,90.6,0.9,NAVY);

box(619,1645,1.5,58,NAVY);
txt('12 April 2017',607,1675,'16.6px '+FONT,'#111','right');
txt('37',633,1675,'16.6px '+FONT,'#111');
txt('This document, published on 12-Apr-2017 at 5:16 AM CET, was forwarded by MARK KEENAN (SGCIB)',630.3,1724,'18.8px '+FONT,NAVY,'center');
txt('and is currently being read by WILLIAM LU (SG FRANCE)',633.3,1744,'18.8px '+FONT,NAVY,'center');

echarts.init(document.getElementById('c'),null,{renderer:'canvas',width:1240,height:1754}).setOption({
  animation:false,backgroundColor:'#fff',tooltip:{show:false},legend:{show:false},grid:grid,xAxis:xAxis,yAxis:yAxis,series:series,graphic:g
});
</script></body></html>
